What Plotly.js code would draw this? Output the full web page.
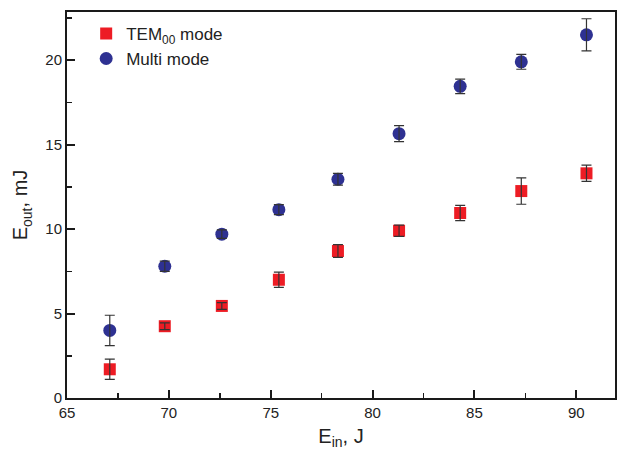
<!DOCTYPE html>
<html><head><meta charset="utf-8">
<script src="https://cdn.plot.ly/plotly-3.0.1.min.js"></script>
<style>html,body{margin:0;padding:0;background:#fff}#chart{width:619px;height:450px}</style>
</head><body><div id="chart"></div>
<script>
const einTEM = [67.1, 69.8, 72.6, 75.4, 78.3, 81.3, 84.3, 87.3, 90.5];
const eoutTEM = [1.7, 4.25, 5.45, 7.0, 8.7, 9.9, 10.95, 12.25, 13.3];
const errTEM = [0.6, 0.2, 0.2, 0.45, 0.38, 0.33, 0.45, 0.78, 0.48];
const einMulti = [67.1, 69.8, 72.6, 75.4, 78.3, 81.3, 84.3, 87.3, 90.5];
const eoutMulti = [4.0, 7.8, 9.7, 11.15, 12.95, 15.65, 18.45, 19.9, 21.5];
const errMulti = [0.9, 0.3, 0.25, 0.3, 0.35, 0.47, 0.43, 0.44, 0.95];

const FONT = 'Liberation Sans, Arial, sans-serif';
const INK = '#1a1a1a';
const errStyle = {type:'data', visible:true, color:'#333', thickness:1.2, width:5};
const traces = [
  {x: einTEM, y: eoutTEM, type:'scatter', mode:'markers', name:'TEM<sub>00</sub> mode',
   marker:{symbol:'square', size:12, color:'#ED1C24'}},
  {x: einMulti, y: eoutMulti, type:'scatter', mode:'markers', name:'Multi mode',
   marker:{symbol:'circle', size:13, color:'#2E3192'}},
  {x: einTEM, y: eoutTEM, type:'scatter', mode:'markers', showlegend:false, hoverinfo:'skip',
   marker:{size:1, opacity:0}, error_y: Object.assign({array: errTEM}, errStyle)},
  {x: einMulti, y: eoutMulti, type:'scatter', mode:'markers', showlegend:false, hoverinfo:'skip',
   marker:{size:1, opacity:0}, error_y: Object.assign({array: errMulti}, errStyle)}
];
const layout = {
  width:619, height:450,
  margin:{l:67, r:4, t:12, b:52},
  paper_bgcolor:'#fff', plot_bgcolor:'#fff',
  showlegend:true,
  legend:{x:0.035, y:0.99, xanchor:'left', yanchor:'top', bgcolor:'rgba(0,0,0,0)',
    font:{family:FONT, size:17, color:'#222'}, tracegroupgap:0, itemwidth:30},
  xaxis: {range:[65, 91.9], dtick:5, ticks:'inside', ticklen:8, tickwidth:2, tickcolor:INK,
    minor:{dtick:2.5, ticks:'inside', ticklen:5, tickwidth:1.5, tickcolor:INK},
    showline:true, linecolor:INK, linewidth:2, mirror:true, showgrid:false, zeroline:false,
    tickfont:{family:FONT, size:15, color:'#222'},
    title:{text:'E<sub>in</sub>, J', standoff:10, font:{family:FONT, size:20, color:'#222'}}},
  yaxis: {range:[0, 22.85], dtick:5, ticks:'inside', ticklen:8, tickwidth:2, tickcolor:INK,
    minor:{dtick:2.5, ticks:'inside', ticklen:5, tickwidth:1.5, tickcolor:INK},
    showline:true, linecolor:INK, linewidth:2, mirror:true, showgrid:false, zeroline:false,
    tickfont:{family:FONT, size:15, color:'#222'},
    title:{text:'E<sub>out</sub>, mJ', standoff:12, font:{family:FONT, size:20, color:'#222'}}}
};
Plotly.newPlot('chart', traces, layout, {displayModeBar:false, staticPlot:true});
</script></body></html>
